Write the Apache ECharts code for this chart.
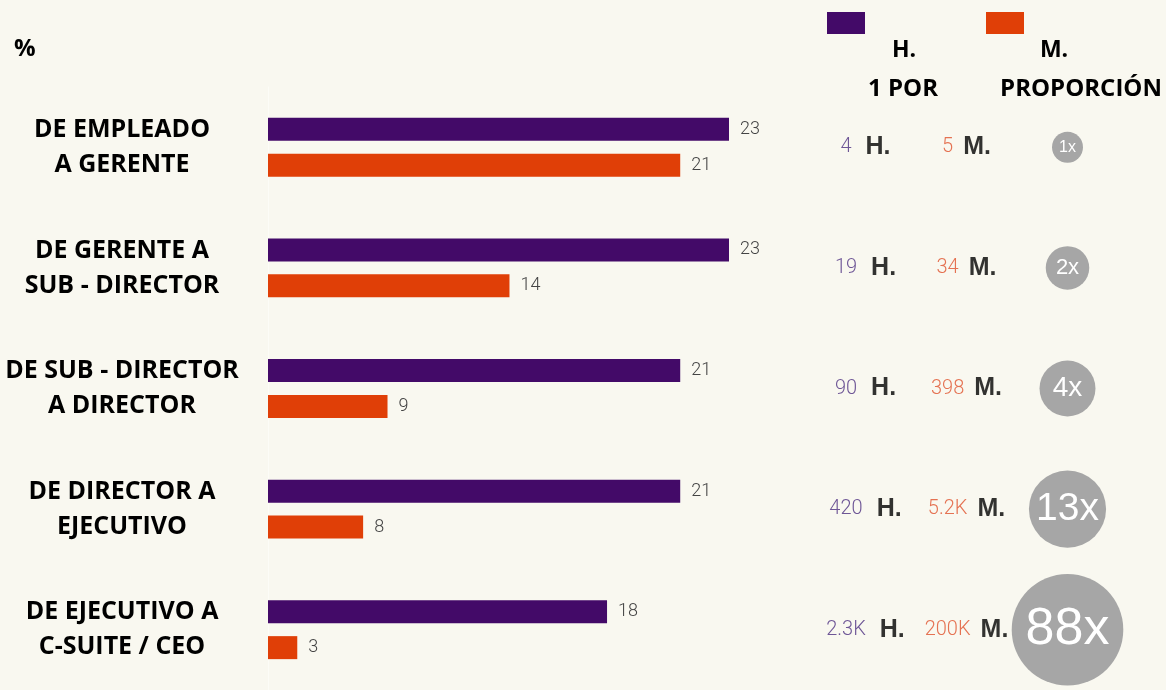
<!DOCTYPE html>
<html>
<head>
<meta charset="utf-8">
<script src="https://cdn.jsdelivr.net/npm/echarts@6/dist/echarts.min.js"></script>
<style>
    html, body { margin: 0; padding: 0; background: #f9f8f0; }
    #chart { width: 1166px; height: 690px; }
</style>
</head>
<body>
<div id="chart"></div>
<script>
// datos
const categorias = [
    'DE EMPLEADO\nA GERENTE',
    'DE GERENTE A\nSUB - DIRECTOR',
    'DE SUB - DIRECTOR\nA DIRECTOR',
    'DE DIRECTOR A\nEJECUTIVO',
    'DE EJECUTIVO A\nC-SUITE / CEO'
];
const pctH = [23, 23, 21, 21, 18];
const pctM = [21, 14, 9, 8, 3];
const unoPorH = ['4', '19', '90', '420', '2.3K'];
const unoPorM = ['5', '34', '398', '5.2K', '200K'];
const proporcion = [1, 2, 4, 13, 88];

const MORADO = '#430a68';
const NARANJA = '#e03f07';

// el eje de barras arranca en ~4.1; lo que queda por debajo se ve como un trozo corto
const EJE_MIN = 4.1;
const TOPE_MIN = 5.3;

const radio = (v) => 15.5 + 9 * Math.log(v);

const chart = echarts.init(document.getElementById('chart'));

const option = {
    backgroundColor: '#f9f8f0',
    animation: false,
    legend: {
        data: ['H.', 'M.'],
        left: 827,
        top: 12,
        padding: 0,
        icon: 'rect',
        itemWidth: 38,
        itemHeight: 22,
        itemGap: 121,
        formatter: () => '',
        selectedMode: false
    },
    graphic: [
        { type: 'text', left: 14, top: 37, style: { text: '%', font: 'bold 24px "Open Sans"', fill: '#000' } },
        { type: 'text', x: 904, y: 50, style: { text: 'H.', font: 'bold 23px "Open Sans"', fill: '#000', align: 'center', verticalAlign: 'middle' } },
        { type: 'text', x: 1054, y: 50, style: { text: 'M.', font: 'bold 23px "Open Sans"', fill: '#000', align: 'center', verticalAlign: 'middle' } },
        { type: 'text', x: 903, y: 89, style: { text: '1 POR', font: 'bold 24px "Open Sans"', fill: '#000', align: 'center', verticalAlign: 'middle' } },
        { type: 'text', x: 1081, y: 89, style: { text: 'PROPORCIÓN', font: 'bold 24px "Open Sans"', fill: '#000', align: 'center', verticalAlign: 'middle' } }
    ],
    grid: [
        { left: 268, top: 87, width: 461, height: 603 },
        { left: 815, top: 87, width: 303, height: 603 }
    ],
    xAxis: [
        { type: 'value', gridIndex: 0, min: EJE_MIN, max: 23, show: false },
        { type: 'category', gridIndex: 1, data: ['H', 'M', 'X'], show: false }
    ],
    yAxis: [
        {
            type: 'category',
            gridIndex: 0,
            inverse: true,
            data: categorias,
            axisTick: { show: false },
            axisLine: { show: true, lineStyle: { color: '#fcfcf7', width: 1 } },
            axisLabel: {
                margin: 146,
                align: 'center',
                fontFamily: 'Open Sans',
                fontWeight: 'bold',
                fontSize: 25,
                lineHeight: 35,
                color: '#000'
            }
        },
        { type: 'category', gridIndex: 1, inverse: true, data: categorias, show: false }
    ],
    series: [
        {
            name: 'H.',
            type: 'bar',
            xAxisIndex: 0,
            yAxisIndex: 0,
            data: pctH,
            barWidth: 23,
            barGap: '56%',
            itemStyle: { color: MORADO },
            label: {
                show: true,
                position: 'right',
                distance: 11,
                color: '#444',
                fontFamily: 'Roboto',
                fontWeight: 300,
                fontSize: 18
            }
        },
        {
            name: 'M.',
            type: 'bar',
            xAxisIndex: 0,
            yAxisIndex: 0,
            data: pctM.map(v => Math.max(v, TOPE_MIN)),
            barWidth: 23,
            itemStyle: { color: NARANJA },
            label: {
                show: true,
                position: 'right',
                distance: 11,
                color: '#444',
                fontFamily: 'Roboto',
                fontWeight: 300,
                fontSize: 18,
                formatter: (p) => pctM[p.dataIndex]
            }
        },
        {
            type: 'scatter',
            xAxisIndex: 1,
            yAxisIndex: 1,
            symbolSize: 1,
            itemStyle: { color: 'rgba(0,0,0,0)' },
            data: unoPorH.map((v, i) => [0, i]),
            label: {
                show: true,
                position: 'inside',
                formatter: (p) => '{n|' + unoPorH[p.dataIndex] + '}{b|H.}',
                rich: {
                    n: { color: '#4b2d7f', fontFamily: 'Roboto', fontWeight: 300, fontSize: 20, padding: [0, 14, 0, 0] },
                    b: { color: '#000', fontFamily: 'Liberation Sans', fontWeight: 'bold', fontSize: 25 }
                }
            }
        },
        {
            type: 'scatter',
            xAxisIndex: 1,
            yAxisIndex: 1,
            symbolSize: 1,
            itemStyle: { color: 'rgba(0,0,0,0)' },
            data: unoPorM.map((v, i) => [1, i]),
            label: {
                show: true,
                position: 'inside',
                formatter: (p) => '{n|' + unoPorM[p.dataIndex] + '}{b|M.}',
                rich: {
                    n: { color: '#e0502a', fontFamily: 'Roboto', fontWeight: 300, fontSize: 20, padding: [0, 10, 0, 0] },
                    b: { color: '#000', fontFamily: 'Liberation Sans', fontWeight: 'bold', fontSize: 25 }
                }
            }
        },
        {
            type: 'scatter',
            xAxisIndex: 1,
            yAxisIndex: 1,
            symbolSize: (val, p) => 2 * radio(proporcion[p.dataIndex]),
            itemStyle: { color: '#a6a6a6', opacity: 1 },
            data: proporcion.map((v, i) => ({
                value: [2, i],
                label: { fontSize: Math.round(Math.min(radio(v), 52)) }
            })),
            label: {
                show: true,
                position: 'inside',
                color: '#fff',
                fontFamily: 'Liberation Sans',
                formatter: (p) => proporcion[p.dataIndex] + 'x'
            }
        }
    ]
};

chart.setOption(option);
</script>
</body>
</html>
